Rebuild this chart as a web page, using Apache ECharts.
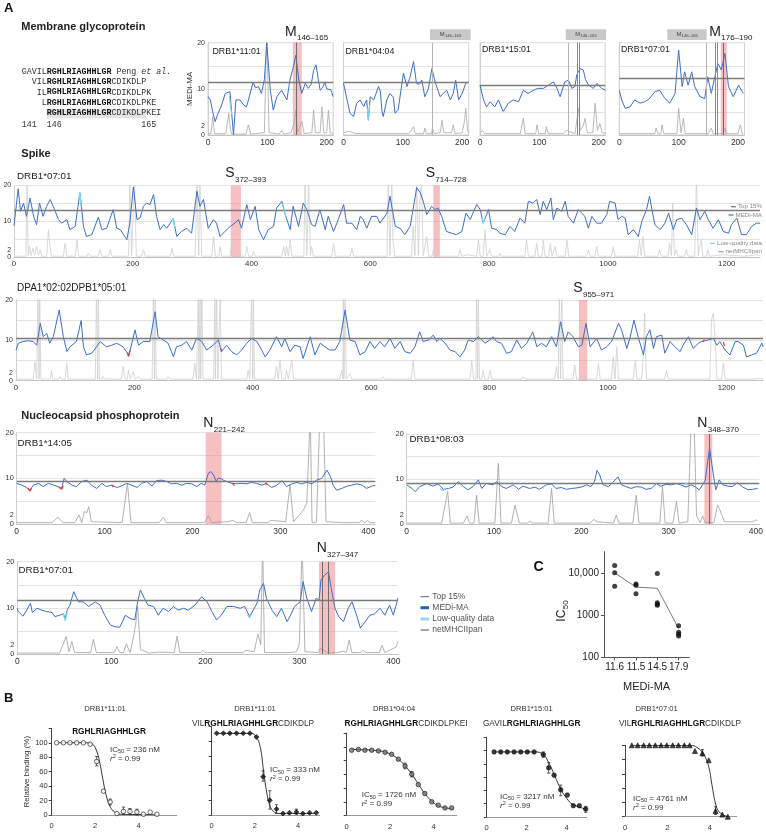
<!DOCTYPE html>
<html><head><meta charset="utf-8">
<script src="https://cdn.jsdelivr.net/npm/echarts@6/dist/echarts.min.js"></script>
<style>html,body{margin:0;padding:0;background:#fff}#c{width:766px;height:832px}</style>
</head><body><div id="c"></div>
<script>
// ---------------- DATA ----------------
var m1Blue=[[0,8.3],[4,7.6],[8,5],[12,2.9],[17,4.7],[23,6.5],[29,9.0],[37,9.4],[40,4.5],[43,0],[45,0],[47,7.6],[54,7.6],[60,6.5],[65,6.1],[70,8.5],[76,11.5],[80,10.2],[85,10.5],[90,9.0],[95,12],[99,19.9],[102,15],[105,9.7],[110,5.4],[116,8.3],[124,9.7],[133,7.6],[138,11.9],[144,14.8],[148,17.3],[153,11.9],[158,9.0],[164,11.2],[169,10.1],[174,11.0],[178,14.0],[182,15.2],[186,12],[189,9.7],[193,10.2],[197,11.5],[200,10.0],[203,9.7],[207,9.8],[211,8.3]];
var m1Grey=[[0,0.3],[5,0.3],[8,4],[11,0.3],[30,0.3],[35,4.7],[38,1],[40,0.2],[64,0.2],[68,2.2],[72,0.2],[95,0.5],[99,22],[103,0.5],[120,0.2],[124,1],[128,0.2],[140,0.5],[145,2.5],[148,5.4],[151,0.5],[158,3],[162,0.3],[175,0.5],[178,5.4],[181,0.5],[189,0.5],[192,6.1],[195,0.5],[200,0.5],[203,5.4],[206,0.5],[211,0.3]];
var m1Cyan=[[36,8.5],[38,6],[40,4.5]];
var m2Blue=[[0,11.2],[6,7.6],[11,4.7],[17,4.0],[22,6.8],[28,7.6],[34,6.2],[39,7.6],[42,3.2],[45,8.3],[51,7.6],[59,10.5],[62,9.5],[65,5],[67,4],[73,7.6],[78,9],[84,8.2],[87,4.7],[92,5.4],[101,13.4],[107,10.5],[112,12.5],[118,15.9],[123,11.2],[128,11],[132,11.9],[137,8.3],[143,10],[149,14.4],[155,11.2],[163,8.3],[168,9],[174,9.7],[180,7.6],[185,9],[189,11.9],[194,7.6],[200,9],[206,11.2],[211,11.5]];
var m2Grey=[[0,0.5],[10,0.8],[20,0.3],[110,0.3],[115,1.2],[118,1.8],[121,0.3],[135,0.3],[137,1.5],[140,0.3],[148,0.3],[150,1.5],[153,0.3],[163,0.5],[166,3.2],[169,0.5],[182,0.5],[185,2.2],[188,0.3],[200,0.5],[204,3],[206,5.8],[209,1],[211,0.5]];
var m2Cyan=[[40,6],[42,3.2],[44,6.5]];
var m3Blue=[[0,10.8],[6,7.6],[11,6.1],[17,7.2],[25,6.1],[31,7.6],[39,5.1],[48,6.9],[56,7.6],[65,7.2],[73,9.7],[81,9.0],[90,9.7],[98,10.1],[107,10.1],[115,10.8],[124,11.5],[130,10],[135,8.3],[143,11.5],[149,11.9],[155,10.1],[160,10.5],[163,13],[169,14.4],[174,14.1],[178,12],[183,10.8],[191,10.1],[197,11.2],[205,10.1],[212,9.7]];
var m3Grey=[[0,0.3],[4,1],[8,0.3],[68,0.3],[73,3.6],[76,0.3],[94,0.3],[96,2.2],[99,0.3],[110,0.3],[112,1.8],[115,0.3],[140,0.3],[146,1],[160,0.3],[166,5.8],[169,1],[174,2],[177,3.6],[181,0.5],[190,0.5],[194,6.9],[198,1],[202,2.5],[206,0.5],[212,0.3]];
var m4Blue=[[0,9.7],[4,7.6],[10,5.8],[18,6.1],[26,7.6],[35,6.9],[43,7.2],[51,7.9],[60,9.4],[68,9.7],[77,7.9],[85,6.9],[94,9.0],[100,18.4],[106,10.5],[110,13.7],[116,10.8],[122,13.7],[127,10.5],[136,8.3],[144,7.9],[149,12.6],[155,9.0],[161,12.6],[166,15.5],[172,14.1],[178,17.7],[184,10.5],[192,8.3],[201,10.8],[209,9.0]];
var m4Grey=[[0,0.3],[60,0.3],[62,1.5],[65,0.3],[70,0.3],[72,2.2],[75,0.3],[97,0.3],[100,5.8],[104,0.5],[108,3.6],[111,0.3],[150,0.3],[155,1.5],[158,0.3],[175,0.3],[178,1.5],[181,0.3],[200,0.3],[204,2.2],[207,0.3],[209,0.3]];
var s1Blue=[[0,8.8],[7,19.1],[11,12.8],[16,15.1],[21,11.4],[27,16.5],[33,11.4],[38,9.1],[43,15.1],[49,11.4],[55,14.2],[61,16.1],[66,14.2],[75,10.5],[80,9.5],[89,10.5],[94,7.7],[103,8.6],[111,18.0],[117,8.6],[122,5.8],[131,6.3],[142,11.2],[148,7.7],[156,8.1],[167,13.3],[173,8.1],[179,7.7],[190,4.9],[195,9.5],[201,19.6],[207,10.5],[212,10.9],[218,14.2],[223,15.1],[229,14.7],[235,17.5],[240,11.4],[246,7.7],[252,9.1],[257,8.1],[263,9.5],[268,10.9],[274,5.8],[282,7.2],[291,8.1],[299,6.7],[308,18.4],[313,14.2],[319,16.1],[327,8.1],[336,10.5],[341,9.5],[347,5.8],[355,7.2],[364,8.6],[372,9.5],[378,10.5],[383,8.1],[392,14.7],[398,10.5],[406,14.2],[412,7.7],[420,4.9],[428,7.7],[437,8.6],[442,13.7],[451,15.6],[456,12.3],[465,7.7],[470,14.2],[479,8.6],[487,15.1],[493,13.3],[501,9.1],[507,8.6],[515,13.3],[524,7.7],[529,11.4],[538,7.2],[546,10.5],[555,14.7],[560,9.5],[569,9.5],[577,7.7],[583,11.4],[588,10.5],[594,8.1],[602,11.4],[611,11.4],[616,9.5],[628,12.3],[633,17.0],[642,8.6],[650,8.1],[658,6.3],[667,8.6],[678,19.4],[684,18.0],[689,15.6],[695,11.9],[703,14.2],[709,13.3],[714,13.7],[720,11.4],[728,7.2],[737,6.7],[745,6.3],[754,7.2],[761,12.3],[768,10.5],[779,14.7],[785,13.3],[790,9.5],[799,13.3],[804,8.1],[813,7.7],[818,6.7],[827,6.3],[835,8.6],[843,7.2],[852,10.9],[860,9.5],[866,15.6],[874,15.1],[880,16.1],[886,11.9],[891,15.6],[897,13.3],[904,16.5],[908,10.5],[914,13.7],[922,12.8],[928,15.6],[933,11.4],[942,9.5],[950,13.3],[956,12.3],[961,11.4],[967,8.1],[973,11.4],[981,9.5],[989,9.5],[998,11.9],[1003,15.6],[1012,15.1],[1017,10.5],[1023,11.4],[1029,10.9],[1034,6.3],[1043,7.7],[1051,5.8],[1057,10.0],[1065,13.3],[1070,17.0],[1074,13.3],[1079,9.1],[1088,7.7],[1096,9.5],[1102,12.3],[1110,7.7],[1116,10.5],[1124,10.9],[1132,9.1],[1141,6.3],[1149,13.7],[1155,10.5],[1163,12.8],[1169,10.5],[1177,8.1],[1186,10.5],[1194,7.2],[1203,6.7],[1208,9.1],[1217,10.9],[1225,6.3],[1233,6.3],[1242,8.6],[1250,9.5],[1256,9.5]];
var s1Grey=[[0,0.3],[20,0.3],[22,22],[24,0.5],[26,3.0],[29,0.5],[32,2.5],[35,0.5],[38,3.0],[41,0.5],[44,2.1],[47,0.3],[55,0.3],[58,7.7],[60,3.9],[63,0.3],[83,0.3],[86,3.9],[89,0.3],[103,0.3],[106,4.9],[109,0.3],[123,0.3],[125,1.1],[128,0.3],[142,0.3],[145,2.1],[148,0.3],[159,0.3],[162,2.1],[165,0.3],[193,0.3],[195,22],[198,0.5],[203,22],[206,0.3],[215,0.3],[218,2.1],[221,0.3],[263,0.3],[266,2.5],[269,0.3],[305,0.3],[308,22],[311,0.5],[313,22],[316,0.3],[333,0.3],[336,5.8],[339,0.3],[345,0.3],[347,3.0],[350,0.3],[364,0.3],[367,4.9],[370,0.3],[389,0.3],[392,3.0],[395,0.3],[401,0.3],[403,1.6],[406,0.3],[451,0.3],[454,3.0],[457,0.3],[459,3.0],[462,0.3],[465,4.9],[468,0.3],[488,0.3],[490,22],[493,0.5],[496,22],[499,0.5],[501,3.0],[504,0.3],[535,0.3],[538,3.9],[541,0.3],[566,0.3],[569,2.5],[572,0.3],[628,0.3],[630,22],[633,0.5],[636,22],[638,4.9],[641,0.3],[669,0.3],[672,8.6],[675,0.5],[678,22],[681,0.5],[683,14.2],[686,22],[689,0.5],[695,5.8],[698,0.3],[704,0.3],[706,2.1],[709,0.3],[748,0.3],[751,2.1],[754,0.3],[762,0.7],[779,0.3],[782,4.9],[785,0.3],[790,0.3],[793,7.7],[796,0.3],[799,0.3],[801,2.1],[804,0.3],[816,0.3],[818,1.1],[821,0.3],[860,0.3],[863,4.9],[866,0.3],[877,0.3],[880,3.9],[883,0.3],[889,0.3],[891,4.9],[894,0.3],[900,0.3],[903,3.9],[906,0.3],[909,0.3],[911,3.0],[914,0.3],[928,0.3],[931,4.9],[934,0.3],[964,0.3],[967,2.1],[970,0.3],[978,0.3],[981,3.0],[984,0.3],[1006,0.3],[1009,3.0],[1012,0.3],[1050,0.3],[1053,4.9],[1056,0.5],[1059,5.8],[1062,0.3],[1084,0.3],[1087,2.1],[1090,0.3],[1101,0.3],[1104,3.9],[1107,0.5],[1109,15.1],[1112,0.5],[1115,2.1],[1118,0.3],[1129,0.3],[1132,2.1],[1135,0.3],[1146,0.3],[1149,22],[1152,0.5],[1157,4.9],[1160,0.3],[1166,0.3],[1168,2.1],[1171,0.3],[1193,0.7],[1230,0.3],[1252,0.7],[1256,0.3]];
var s1CyanA=[[109,16],[111,18.0],[113,14]];
var s1CyanB=[[266,10],[268,10.9],[271,8]];
var s1CyanC=[[452,14.8],[455,13],[458,11]];
var s1CyanD=[[788,11],[790,9.5],[793,11]];
var s2Blue=[[0,7.6],[4,9.3],[12,9.7],[21,9.9],[29,9.7],[35,8.8],[41,14.2],[46,10.9],[52,11.7],[57,9.3],[63,10.9],[73,17.5],[80,10.9],[86,7.2],[91,8.4],[102,9.7],[110,14.9],[114,8.4],[119,6.4],[128,6.8],[136,8.4],[142,9.7],[153,8.4],[162,8.8],[170,9.3],[181,8.4],[190,6.4],[193,7.6],[201,12.6],[207,8.8],[215,9.7],[226,9.7],[235,17.1],[240,10.9],[249,10.1],[257,9.3],[266,5.9],[271,8.4],[280,8.8],[288,9.7],[297,7.6],[305,10.5],[314,9.7],[322,7.6],[333,8.8],[342,10.1],[347,7.2],[356,8.8],[364,7.2],[373,6.4],[381,7.6],[390,9.3],[398,10.5],[407,9.7],[415,7.6],[421,5.9],[429,7.6],[440,10.9],[449,8.4],[454,10.5],[463,7.2],[471,8.8],[480,8.4],[485,5.5],[497,10.9],[505,6.4],[514,9.3],[522,8.4],[530,7.6],[539,7.6],[547,9.7],[556,17.5],[564,10.1],[573,9.7],[581,6.4],[590,7.2],[598,9.7],[606,8.0],[615,9.7],[623,8.4],[632,10.5],[640,8.0],[649,9.7],[657,7.2],[666,6.8],[674,8.4],[682,12.1],[688,9.7],[697,10.1],[705,11.3],[711,9.7],[716,10.5],[725,9.3],[733,7.6],[742,7.2],[750,5.9],[758,7.6],[764,10.1],[773,9.7],[781,10.9],[787,10.1],[792,9.3],[801,10.1],[806,10.9],[812,9.7],[820,9.3],[829,6.8],[837,7.2],[846,10.1],[854,8.0],[863,9.3],[873,12.1],[880,8.4],[888,9.3],[896,8.4],[905,10.9],[913,8.4],[920,14.6],[927,9.7],[933,12.1],[941,10.9],[950,8.4],[956,8.8],[963,14.2],[970,8.4],[981,10.5],[989,7.6],[998,8.4],[1006,9.7],[1018,14.2],[1023,12.6],[1032,8.0],[1037,10.5],[1044,15.0],[1051,10.9],[1060,6.4],[1065,10.9],[1071,12.6],[1077,8.0],[1082,10.9],[1091,11.3],[1096,6.8],[1105,9.7],[1113,8.4],[1122,7.2],[1127,8.8],[1136,10.9],[1144,8.0],[1153,9.3],[1158,9.7],[1170,10.1],[1178,10.5],[1184,8.8],[1189,9.7],[1198,7.6],[1206,6.4],[1215,9.7],[1220,9.7],[1229,8.8],[1234,5.9],[1243,6.4],[1251,6.8],[1260,9.3],[1262,8.4]];
var s2Grey=[[0,0.4],[29,0.4],[32,4.7],[35,0.4],[37,22],[39,0.4],[40,22],[42,0.4],[58,0.4],[60,2.6],[62,0.4],[72,0.4],[74,1.0],[76,0.4],[83,0.4],[86,4.3],[88,0.4],[134,0.4],[136,22],[138,0.4],[139,22],[141,0.4],[145,0.4],[147,1.0],[150,0.4],[178,0.4],[181,3.5],[184,0.4],[188,0.4],[190,2.6],[193,0.4],[196,0.4],[198,2.2],[201,0.4],[204,0.4],[207,1.0],[210,0.4],[230,0.4],[232,22],[234,0.4],[235,22],[237,0.4],[255,0.4],[257,1.0],[260,0.4],[299,0.4],[302,4.3],[305,0.4],[308,22],[309,0.4],[311,22],[312,0.4],[314,22],[316,0.4],[334,0.4],[336,22],[337,0.4],[339,22],[341,0.4],[343,0.4],[345,22],[347,0.4],[390,0.4],[392,2.6],[395,0.4],[397,0.4],[398,22],[400,0.4],[401,22],[403,0.4],[437,0.4],[440,3.5],[443,0.4],[446,5.1],[449,0.4],[455,0.4],[457,2.6],[460,0.4],[463,0.4],[466,5.1],[469,0.4],[547,0.4],[550,2.6],[552,0.4],[553,22],[554,0.4],[556,22],[558,0.4],[564,1.8],[567,0.4],[618,0.4],[620,1.0],[623,0.4],[668,0.4],[671,5.1],[674,0.4],[767,0.4],[770,5.1],[773,0.4],[777,0.4],[778,22],[780,0.4],[781,22],[783,0.4],[787,0.4],[789,2.6],[792,0.4],[798,0.4],[801,2.6],[804,0.4],[854,0.4],[857,1.0],[860,0.4],[910,0.4],[913,3.5],[916,0.4],[918,22],[920,0.4],[922,22],[924,0.4],[941,0.4],[944,3.9],[947,0.4],[981,0.4],[984,4.3],[987,0.4],[1006,0.4],[1009,5.9],[1012,0.4],[1015,8.4],[1018,0.4],[1043,0.4],[1046,5.1],[1049,0.4],[1057,0.4],[1060,6.8],[1062,16.7],[1065,0.4],[1096,0.4],[1099,2.6],[1102,0.4],[1172,0.4],[1175,15],[1178,16.7],[1181,10.9],[1184,0.4],[1192,0.4],[1195,4.3],[1198,0.4],[1250,0.4],[1254,0.6],[1262,0.4]];
var s2Red=[[188,7.0],[190,6.0],[193,7.5],null,[346,8.0],[348,7.2],null,[1161,9.6],[1163,10.2],null,[1195,9.6],[1197,8.6]];
var n1Blue=[[0,8.9],[6,8.5],[11,8.0],[15,7.4],[19,8.5],[25,8.9],[30,8.2],[36,8.9],[42,8.5],[47,8.2],[51,7.8],[54,10.0],[57,9.3],[63,8.5],[68,8.2],[74,9.3],[80,9.6],[85,8.5],[91,7.8],[97,8.9],[102,8.2],[108,8.5],[114,8.0],[119,8.3],[125,8.9],[131,8.5],[137,8.0],[142,8.9],[148,9.3],[154,8.3],[159,9.5],[165,9.6],[171,9.3],[176,8.8],[182,8.9],[188,8.5],[193,8.9],[199,8.8],[205,8.2],[210,8.9],[214,8.5],[218,11.1],[221,11.5],[224,10.7],[227,9.3],[229,10.0],[232,10.0],[235,9.6],[239,9.3],[245,8.9],[250,8.8],[256,8.9],[262,8.8],[267,9.1],[273,8.9],[279,8.5],[284,8.9],[290,8.0],[296,8.5],[302,9.5],[307,8.2],[313,8.8],[319,9.1],[324,8.8],[330,9.1],[336,8.8],[341,9.6],[347,10.0],[353,11.8],[357,10.4],[360,8.5],[364,7.4],[370,7.8],[376,8.3],[381,8.5],[387,8.8],[393,8.5],[398,7.8],[404,8.3],[408,8.5]];
var n1Grey=[[0,0.3],[40,0.3],[47,1.5],[50,0.8],[53,0.3],[66,0.3],[71,2.0],[74,0.3],[77,2.7],[80,2.5],[82,3.8],[85,0.5],[120,0.3],[126,8.9],[130,0.3],[162,0.3],[167,1.5],[170,0.3],[214,0.3],[218,1.8],[222,0.3],[240,0.5],[246,0.8],[250,0.3],[261,0.3],[265,2.5],[268,0.3],[286,0.3],[289,0.8],[306,0.5],[311,8.5],[315,0.5],[326,3],[330,4.5],[334,24],[336,0.3],[341,0.3],[345,24],[349,24],[352,0.5],[370,0.3],[390,0.3],[392,0.8],[396,0.3],[399,0.8],[402,0.3],[408,0.3]];
var n1Red=[[13,7.9],[15,7.2],[17,7.8],null,[48,8.1],[51,7.6],[53,8.4],null,[108,8.6],[110,8.1],null,[245,8.9],[248,8.4],null,[283,9.1],[285,8.5]];
var n2Blue=[[0,8.7],[6,7.9],[10,7.2],[15,8.3],[23,9.0],[30,8.4],[36,8.9],[42,7.7],[48,7.9],[53,8.2],[59,9.4],[65,8.3],[70,7.6],[76,8.3],[82,9.8],[86,7.9],[91,9.0],[99,8.7],[103,9.4],[109,8.3],[114,7.9],[122,8.7],[128,7.7],[133,8.4],[141,7.9],[147,8.2],[152,7.7],[160,8.7],[166,8.9],[171,7.9],[177,8.1],[183,7.7],[189,7.9],[194,8.0],[200,8.2],[206,8.7],[211,8.3],[215,9.4],[218,11.9],[221,10.9],[225,8.7],[231,8.3],[236,9.2],[242,10.5],[246,8.7],[251,8.3],[257,7.9],[263,8.3],[269,8.2],[274,7.7],[280,7.9],[286,9.0],[291,8.4],[297,8.8],[303,8.7],[309,9.0],[314,8.7],[320,8.2],[326,8.7],[331,8.2],[335,7.6],[339,8.7],[342,9.8],[345,14.2],[347,16.8],[351,11.3],[354,7.6],[358,9.8],[362,8.7],[368,8.4],[373,8.3],[379,9.2],[385,8.2],[391,7.6],[396,7.7],[402,7.9]];
var n2Grey=[[0,0.2],[40,0.2],[47,7.2],[50,0.2],[65,0.2],[69,1.8],[72,0.2],[77,0.2],[80,6.4],[83,0.2],[101,0.2],[105,13.5],[108,0.2],[120,0.2],[124,4.2],[126,3.8],[129,0.2],[138,0.2],[141,0.6],[144,0.2],[162,0.2],[166,7.9],[169,0.2],[210,0.2],[214,1.0],[218,0.5],[237,0.2],[240,2.0],[243,0.2],[259,0.2],[263,6.4],[266,0.2],[290,0.2],[293,8.3],[296,0.2],[305,0.2],[309,5.0],[312,0.2],[322,0.5],[326,24],[329,24],[332,1.8],[336,0.3],[339,1.8],[342,0.3],[352,0.3],[356,4.2],[358,3.5],[360,3.9],[364,0.5],[375,0.5],[390,0.5],[392,0.9],[396,0.5],[400,0.9],[402,0.8]];
var n2Cyan=[[38,7.9],[42,7.4],[45,8.0],null,[318,8.7],[320,9.2],[322,8.7]];
var n3Blue=[[0,9.9],[1,9.2],[6,8.2],[10,9.5],[14,11.0],[16,9.0],[21,9.9],[26,9.5],[31,9.2],[37,9.0],[40,8.1],[45,8.4],[49,8.7],[51,7.7],[53,9.5],[56,10.6],[60,13.5],[65,11.3],[70,11.3],[76,10.3],[83,11.3],[88,10.6],[93,8.4],[99,6.3],[104,5.9],[109,5.8],[115,8.4],[120,7.7],[125,7.4],[128,11.3],[131,13.9],[135,12.1],[139,10.6],[145,10.3],[150,8.4],[155,9.9],[161,9.2],[166,10.3],[171,9.5],[177,9.9],[182,9.5],[189,10.6],[196,12.4],[202,11.3],[207,9.2],[212,7.4],[217,8.4],[223,10.3],[230,10.3],[237,9.9],[242,10.3],[247,8.1],[251,9.5],[255,11.0],[258,13.9],[262,15.3],[265,12.1],[271,9.5],[276,8.1],[281,9.9],[287,7.0],[290,8.1],[295,10.3],[301,11.3],[304,15.7],[308,12.1],[313,9.2],[318,12.1],[321,11.7],[323,16.0],[327,17.1],[331,17.8],[334,14.2],[338,9.9],[342,8.1],[347,7.0],[352,9.9],[356,11.3],[361,8.4],[365,5.6],[370,7.0],[375,8.4],[380,8.7],[386,9.9],[391,8.4],[396,10.6],[400,8.4],[405,12.1]];
var n3Grey=[[0,0.2],[45,0.2],[52,3.8],[55,0.5],[58,2.7],[61,0.3],[78,0.3],[81,3.2],[84,0.3],[103,0.3],[106,1.6],[109,0.3],[113,0.3],[116,2.2],[120,0.3],[124,4],[126,6.6],[128,10.3],[131,1],[140,0.2],[150,0.4],[167,0.3],[170,3.9],[173,0.3],[195,0.3],[197,0.8],[200,0.3],[240,0.3],[243,0.8],[252,0.5],[256,4.3],[259,2],[261,24],[263,0.3],[290,0.3],[297,0.5],[300,2.2],[303,24],[306,0.5],[320,0.3],[322,1.2],[330,0.3],[340,0.3],[347,0.6],[350,0.3],[353,3.0],[356,0.3],[365,0.3],[368,0.8],[371,0.3],[385,0.3],[388,1.9],[391,0.3],[403,1.5],[405,2.7]];
var n3Cyan=[[49,8.7],[51,7.2],[53,9.0],null,[245,8.5],[247,7.8],[249,8.5]];
var cCategories=['11.6','11.5','14.5','17.9'];
var cIC50=[[0,15000],[0,10000],[0,4800],[1,5400],[1,5100],[1,3200],[2,9600],[2,1950],[2,1800],[2,1700],[3,560],[3,390],[3,350],[3,320]];
var cTrend=[10000,4600,4300,480];
// Panel B: x = log10 concentration (nM), y = relative binding (%)
var b1Points=[[0.23,100],[0.54,100],[0.84,100],[1.15,100],[1.46,100],[1.77,98],[2.07,74],[2.38,33],[2.69,18],[3.0,2],[3.3,5],[3.6,5],[3.92,4],[4.22,1],[4.53,4],[4.84,1]];
var b1Curve=[[0.23,100],[1.5,100],[1.85,98.5],[2.05,90],[2.2,74],[2.35,50],[2.5,28],[2.7,11],[2.9,4],[3.2,1],[4.84,0.5]];
var b1Err=[[2.07,68,81],[2.69,14,22],[3.3,1,11],[3.6,1,9],[3.92,0,8]];
var b2Points=[[0.23,111],[0.54,111],[0.84,111],[1.15,111],[1.46,111],[1.77,111],[2.07,106],[2.38,52],[2.69,20],[3.0,8],[3.3,2],[3.6,3],[3.92,4],[4.22,2],[4.53,3],[4.84,3]];
var b2Curve=[[0.23,111],[1.8,111],[2.05,107],[2.25,92],[2.4,60],[2.55,30],[2.7,12],[2.9,4],[3.2,2],[4.84,2]];
var b2Err=[[2.38,46,60],[2.69,8,33],[3.0,2,14],[3.92,1,8]];
var b3Points=[[0.23,95],[0.54,96],[0.84,95],[1.15,95],[1.46,94],[1.77,92],[2.07,89],[2.38,82],[2.69,72],[3.0,60],[3.3,45],[3.6,32],[3.92,20],[4.22,15],[4.53,11],[4.84,11]];
var b3Curve=[[0.23,96],[1.2,95],[1.8,92],[2.3,84],[2.7,72],[3.0,60],[3.3,46],[3.6,32],[3.95,20],[4.3,13],[4.84,10]];
var b3Err=[[2.69,68,76],[3.0,56,64]];
var b4Points=[[0.37,98],[0.7,98],[1.03,98],[1.37,98],[1.7,98],[2.03,98],[2.37,98],[2.83,94],[3.1,74],[3.37,63],[3.7,41],[4.03,33],[4.33,17],[4.63,17],[4.95,12]];
var b4Curve=[[0.37,98],[2.4,98],[2.8,95],[3.1,82],[3.4,62],[3.7,42],[4.0,28],[4.3,19],[4.95,12]];
var b4Err=[[2.83,90,98],[3.1,66,82],[3.7,32,48],[4.95,7,16]];
var b5Points=[[0.32,100],[0.6,100],[0.88,100],[1.15,100],[1.43,100],[1.7,100],[1.97,100],[2.25,100],[2.52,100],[2.8,100],[3.05,100],[3.3,92],[3.65,89],[3.95,79],[4.27,8],[4.59,3],[4.85,0]];
var b5Curve=[[0.32,100],[3.1,100],[3.4,97],[3.7,88],[3.95,70],[4.1,45],[4.3,15],[4.5,5],[4.85,0]];
var b5Err=[[3.65,85,94],[4.27,3,14]];
</script>
<script>
var FONT='"Liberation Sans", Arial, sans-serif';
var MONO='"Liberation Mono", "Courier New", monospace';
var BLUE='#3d6ec9', CYAN='#7fd3ea', RED='#e8363a';
var grids=[], xAxes=[], yAxes=[], series=[], graphics=[];
var cv=document.createElement('canvas').getContext('2d');
function tw(s,size,weight,fam){cv.font=(weight||'normal')+' '+size+'px '+(fam||FONT);return cv.measureText(s).width;}
function txt(x,y,text,o){
  o=o||{};
  var st={text:text,fill:o.color||'#222',fontSize:o.size||9,fontFamily:o.family||FONT,fontWeight:o.weight||'normal',fontStyle:o.fstyle||'normal',
    textAlign:o.align||'left',textVerticalAlign:o.valign||'middle',align:o.align||'left',verticalAlign:o.valign||'middle'};
  if(o.rich) st.rich=o.rich;
  graphics.push({type:'text',x:x,y:y,rotation:o.rot||0,silent:true,z:100,style:st});
}
function subLabel(x,yc,main,sub,ms,ss,dy,color){txt(x,yc,main,{size:ms,color:color});txt(x+tw(main,ms)+0.3,yc+dy,sub,{size:ss,color:color});}
function hline(x1,x2,y,color,w){graphics.push({type:'line',silent:true,z:100,shape:{x1:x1,y1:y,x2:x2,y2:y},style:{stroke:color,lineWidth:w}});}
function rect(x,y,w,h,color){graphics.push({type:'rect',silent:true,z:90,shape:{x:x,y:y,width:w,height:h},style:{fill:color}});}
function plainNum(v){return String(v);}
function profile(p){
  var i=grids.length;
  grids.push({left:p.left,top:p.top,width:p.width,height:p.height,show:!!p.box,borderColor:'#d3d3d3',borderWidth:1,backgroundColor:'transparent'});
  xAxes.push({type:'value',gridIndex:i,min:0,max:p.xmax,axisLine:{show:true,lineStyle:{color:'#c4c4c4',width:1}},axisTick:{show:false},splitLine:{show:false},
    axisLabel:{customValues:p.xlabels,formatter:plainNum,fontSize:p.xfs,color:'#333',margin:3,fontFamily:FONT}});
  yAxes.push({type:'value',gridIndex:i,min:0,max:20,interval:5,axisLine:{show:true,lineStyle:{color:'#d0d0d0'}},axisTick:{show:false},
    splitLine:{show:true,lineStyle:{color:'#e3e3e3',width:1}},
    axisLabel:{show:p.ylab!==false,customValues:[0,2,10,20],formatter:plainNum,fontSize:p.yfs,color:'#333',margin:3,fontFamily:FONT},
    name:p.yname||'',nameLocation:'middle',nameGap:p.nameGap||14,nameRotate:90,nameTextStyle:{fontSize:8,color:'#333',fontFamily:FONT}});
  var ml=[{yAxis:p.top15,lineStyle:{color:'#7b7b7b',width:1.3,type:'solid'}}];
  (p.vlines||[]).forEach(function(v){ml.push({xAxis:v[0],lineStyle:{color:v[1],width:1,type:'solid'}});});
  var areas=(p.bands||[]).map(function(b){return [{xAxis:b[0]},{xAxis:b[1]}];});
  series.push({type:'line',xAxisIndex:i,yAxisIndex:i,data:p.grey,symbol:'none',lineStyle:{color:p.greyColor||'#bdbdbd',width:0.8},z:2,silent:true,
    markArea:{silent:true,itemStyle:{color:'rgba(238,128,134,0.5)'},data:areas}});
  series.push({type:'line',xAxisIndex:i,yAxisIndex:i,data:p.blue,symbol:'none',lineStyle:{color:BLUE,width:1},z:4,silent:true,
    markLine:{silent:true,symbol:'none',label:{show:false},data:ml}});
  (p.cyan||[]).forEach(function(c){series.push({type:'line',xAxisIndex:i,yAxisIndex:i,data:c,symbol:'none',connectNulls:false,lineStyle:{color:CYAN,width:1.2},z:5,silent:true});});
  if(p.red){series.push({type:'line',xAxisIndex:i,yAxisIndex:i,data:p.red,symbol:'none',connectNulls:false,lineStyle:{color:RED,width:1.2},z:5,silent:true});}
  if(p.title){txt(p.title[0],p.title[1],p.title[2],{size:p.tfs||9.8});}
}
function mp(extra){var base={top:42.7,height:92.3,width:125.2,xmax:211,xlabels:[0,100,200],xfs:8.5,yfs:7,box:true,greyColor:'#a8a8a8',tfs:8.8};for(var k in extra){base[k]=extra[k];}return base;}
profile(mp({left:208,blue:m1Blue,grey:m1Grey,cyan:[m1Cyan],top15:11.5,bands:[[143,158]],vlines:[[148,'#6d6d6d']],yname:'MEDi-MA',nameGap:13,title:[212.5,51.7,'DRB1*11:01']}));
profile(mp({left:343.5,blue:m2Blue,grey:m2Grey,cyan:[m2Cyan],top15:11.5,ylab:false,vlines:[[150,'#b4b4b4']],title:[345.5,51.7,'DRB1*04:04']}));
profile(mp({left:480,blue:m3Blue,grey:m3Grey,top15:10.8,ylab:false,vlines:[[148,'#b4b4b4'],[164,'#8a8a8a'],[168,'#8a8a8a']],title:[482,49.5,'DRB1*15:01']}));
profile(mp({left:619.3,blue:m4Blue,grey:m4Grey,top15:12.3,ylab:false,bands:[[171,181]],vlines:[[146,'#b4b4b4'],[161,'#8a8a8a'],[165,'#8a8a8a'],[175,'#6d6d6d']],title:[621,49.5,'DRB1*07:01']}));
profile({left:14,top:185.5,width:746,height:71.8,xmax:1256,xlabels:[0,200,400,600,800,1000,1200],xfs:7.8,yfs:6.8,blue:s1Blue,grey:s1Grey,greyColor:'#cfcfcf',cyan:[s1CyanA,s1CyanB,s1CyanC,s1CyanD],top15:13.2,bands:[[365,382],[706,717]],title:[17,176,'DRB1*07:01']});
profile({left:16,top:300,width:747,height:80.7,xmax:1262,xlabels:[0,200,400,600,800,1000,1200],xfs:7.8,yfs:7,blue:s2Blue,grey:s2Grey,greyColor:'#cfcfcf',red:s2Red,top15:10.5,bands:[[951,965]],title:[17,288.3,'DPA1*02:02DPB1*05:01'],tfs:10});
profile({left:16.7,top:432.7,width:358.6,height:91.3,xmax:408,xlabels:[0,100,200,300,400],xfs:8.5,yfs:7.3,blue:n1Blue,grey:n1Grey,greyColor:'#a0a0a0',red:n1Red,top15:9.27,bands:[[215,233]],title:[17.5,443.3,'DRB1*14:05']});
profile({left:406.7,top:434,width:353.5,height:90,xmax:404,xlabels:[0,100,200,300,400],xfs:8.5,yfs:7.3,blue:n2Blue,grey:n2Grey,greyColor:'#a0a0a0',cyan:[n2Cyan],top15:9.0,bands:[[341,350]],vlines:[[347,'#6d6d6d']],title:[409.5,439.3,'DRB1*08:03']});
profile({left:17.3,top:561.7,width:380.7,height:92.3,xmax:405,xlabels:[0,100,200,300,400],xfs:8.5,yfs:7.3,blue:n3Blue,grey:n3Grey,greyColor:'#a0a0a0',cyan:[n3Cyan],top15:11.55,bands:[[321,338]],vlines:[[324,'#6d6d6d'],[331,'#6d6d6d']],title:[18.5,570,'DRB1*07:01']});

// Panel C
var ci=grids.length;
grids.push({left:604,top:551.7,width:85.3,height:105.6});
xAxes.push({type:'category',gridIndex:ci,data:cCategories,boundaryGap:true,axisLine:{lineStyle:{color:'#555'}},axisTick:{show:true,alignWithLabel:true,length:3,lineStyle:{color:'#555'}},
  axisLabel:{interval:0,fontSize:10,color:'#222',margin:5,fontFamily:FONT},name:'MEDi-MA',nameLocation:'middle',nameGap:24,nameTextStyle:{fontSize:11,color:'#222',fontFamily:FONT}});
yAxes.push({type:'log',gridIndex:ci,logBase:10,min:100,max:31623,axisLine:{show:true,lineStyle:{color:'#555'}},axisTick:{show:true,length:3,lineStyle:{color:'#555'}},splitLine:{show:false},
  axisLabel:{fontSize:10,color:'#222',margin:5,fontFamily:FONT,showMaxLabel:false,formatter:function(v){var r=Math.round(v);if(r===100){return '100';}if(r===1000){return '1000';}if(r===10000){return '10,000';}return '';}}});
series.push({type:'line',xAxisIndex:ci,yAxisIndex:ci,data:cTrend,symbol:'none',lineStyle:{color:'#7a7a7a',width:1},z:3,silent:true});
series.push({type:'scatter',xAxisIndex:ci,yAxisIndex:ci,data:cIC50,symbolSize:5,itemStyle:{color:'#111'},z:4,silent:true});

// Panel B
function errRender(params,api){
  var x=api.value(0),lo=api.value(1),hi=api.value(2);
  var a=api.coord([x,lo]),b=api.coord([x,hi]);var c=1.6;
  var st={stroke:'#333',lineWidth:0.8};
  return {type:'group',children:[
    {type:'line',shape:{x1:a[0],y1:a[1],x2:b[0],y2:b[1]},style:st},
    {type:'line',shape:{x1:a[0]-c,y1:a[1],x2:a[0]+c,y2:a[1]},style:st},
    {type:'line',shape:{x1:b[0]-c,y1:b[1],x2:b[0]+c,y2:b[1]},style:st}]};
}
function bPanel(p){
  var i=grids.length;
  grids.push({left:p.left,top:p.top,width:p.width,height:p.height});
  xAxes.push({type:'value',gridIndex:i,min:0,max:p.xmax,interval:1,axisLine:{show:true,lineStyle:{color:'#9a9a9a'}},axisTick:{show:false},splitLine:{show:false},
    axisLabel:{customValues:[0,2,4],fontSize:7.5,color:'#333',margin:7,fontFamily:FONT}});
  yAxes.push({type:'value',gridIndex:i,min:0,max:p.ymax,interval:20,axisLine:{show:true,lineStyle:{color:'#444'}},axisTick:{show:true,length:3,lineStyle:{color:'#444'}},splitLine:{show:false},
    axisLabel:{show:!!p.ylab,customValues:[0,20,40,60,80,100],fontSize:7.5,color:'#333',margin:4,fontFamily:FONT},
    name:p.yname||'',nameLocation:'middle',nameGap:17,nameRotate:90,nameTextStyle:{fontSize:8,color:'#333',fontFamily:FONT}});
  series.push({type:'line',xAxisIndex:i,yAxisIndex:i,data:p.curve,smooth:0.4,symbol:'none',lineStyle:{color:'#222',width:0.9},z:3,silent:true});
  series.push({type:'custom',xAxisIndex:i,yAxisIndex:i,data:p.err,renderItem:errRender,z:3,silent:true});
  series.push({type:'scatter',xAxisIndex:i,yAxisIndex:i,data:p.points,symbol:p.symbol,symbolSize:p.size||4.5,itemStyle:{color:p.fill,borderColor:'#111',borderWidth:0.8},z:4,silent:true});
}
bPanel({left:51.7,top:728.3,width:125,height:86.7,xmax:5.75,ymax:120,ylab:true,yname:'Relative binding (%)',points:b1Points,curve:b1Curve,err:b1Err,symbol:'circle',fill:'#fff'});
bPanel({left:211.7,top:726.7,width:108,height:88.3,xmax:5,ymax:120,points:b2Points,curve:b2Curve,err:b2Err,symbol:'diamond',fill:'#111',size:5});
bPanel({left:346.7,top:733,width:110,height:82.5,xmax:5.07,ymax:120,points:b3Points,curve:b3Curve,err:b3Err,symbol:'circle',fill:'#777'});
bPanel({left:486.7,top:737.3,width:100,height:80,xmax:5,ymax:120,points:b4Points,curve:b4Curve,err:b4Err,symbol:'circle',fill:'#111'});
bPanel({left:625,top:745.3,width:111.7,height:71.4,xmax:5.27,ymax:100,points:b5Points,curve:b5Curve,err:b5Err,symbol:'triangle',fill:'#111',size:5});
</script>
<script>
// text / annotations
txt(4,8,'A',{size:13,weight:'bold',color:'#111'});
txt(21.3,27,'Membrane glycoprotein',{size:11,weight:'bold',color:'#222'});
txt(21.3,154,'Spike',{size:11,weight:'bold',color:'#222'});
txt(21.3,416,'Nucleocapsid phosphoprotein',{size:11,weight:'bold',color:'#222'});
var seqRich={n:{fontFamily:MONO,fontSize:8.3,fill:'#333',color:'#333'},b:{fontFamily:MONO,fontSize:8.3,fontWeight:'bold',fill:'#111',color:'#111'},i:{fontFamily:MONO,fontSize:8.3,fontStyle:'italic',fill:'#333',color:'#333'}};
var seqLines=[['GAVIL','RGHLRIAGHHLGR',' Peng ','et al.'],['VIL','RGHLRIAGHHLGR','CDIKDLP',''],['IL','RGHLRIAGHHLGR','CDIKDLPK',''],['L','RGHLRIAGHHLGR','CDIKDLPKE',''],['','RGHLRIAGHHLGR','CDIKDLPKEI','']];
var cw=tw('M',8.3,'normal',MONO);
var boldStart=46.7;
rect(boldStart,108.7,cw*20,9.6,'#e4e4e4');
seqLines.forEach(function(l,k){
  var x=boldStart-cw*l[0].length;
  var s=(l[0]?'{n|'+l[0]+'}':'')+'{b|'+l[1]+'}'+'{n|'+l[2]+'}'+(l[3]?'{i|'+l[3]+'}':'');
  txt(x,71.5+k*10.45,s,{rich:seqRich,family:MONO,size:8.3});
});
txt(21.7,124.5,'141',{family:MONO,size:8.3,color:'#333'});
txt(boldStart,124.5,'146',{family:MONO,size:8.3,color:'#333'});
txt(boldStart+cw*19,124.5,'165',{family:MONO,size:8.3,color:'#333'});
function tag(x1,x2){rect(x1,29.3,x2-x1,10.7,'#c8c8c8');var w=tw('M',5.8)+tw('146–165',4.2);var xs=(x1+x2)/2-w/2;subLabel(xs,34,'M','146–165',5.8,4.2,1.8,'#444');}
tag(430,470.7);tag(565.7,606);tag(667.3,706.7);
subLabel(285,31.7,'M','146–165',14,8,6.5,'#222');
subLabel(709.3,31.7,'M','176–190',14,8,6.5,'#222');
subLabel(225.3,173,'S','372–393',14,8,6.5,'#222');
subLabel(425.7,173,'S','714–728',14,8,6.5,'#222');
subLabel(573.3,288.3,'S','955–971',14,8,6.5,'#222');
subLabel(203.3,423.3,'N','221–242',14,8,6.5,'#222');
subLabel(697.3,423,'N','348–370',14,8,6.5,'#222');
subLabel(316.7,548.3,'N','327–347',14,8,6.5,'#222');
var legS=[[206.7,'#6f6f6f','Top 15%'],[215,BLUE,'MEDi-MA'],[243.3,CYAN,'Low-quality data'],[251.7,'#9a9a9a','netMHCIIpan']];
legS.forEach(function(r){var w=tw(r[2],6.2);var x0=762-w;hline(x0-7,x0-2,r[0],r[1],1.2);txt(762,r[0],r[2],{size:6.2,color:'#888',align:'right'});});
var legN=[[596.7,'#666',1,'Top 15%'],[607.7,'#2a5db5',3,'MEDi-MA'],[619,'#96d7ea',3,'Low-quality data'],[630,'#555',1,'netMHCIIpan']];
legN.forEach(function(r){hline(420.5,429,r[0],r[1],r[2]);txt(432.3,r[0],r[3],{size:8.5,color:'#555'});});
txt(533.5,566.7,'C',{size:14,weight:'bold',color:'#111'});
graphics.push({type:'group',x:562,y:611.7,rotation:Math.PI/2,silent:true,z:100,children:[
  {type:'text',x:-10,y:0,style:{text:'IC',fill:'#222',fontSize:12,fontFamily:FONT,textAlign:'left',textVerticalAlign:'middle',align:'left',verticalAlign:'middle'}},
  {type:'text',x:-10+tw('IC',12)+0.5,y:4,style:{text:'50',fill:'#222',fontSize:8,fontFamily:FONT,textAlign:'left',textVerticalAlign:'middle',align:'left',verticalAlign:'middle'}}]});
txt(4,698.3,'B',{size:13,weight:'bold',color:'#111'});
var pepRich={n:{fontFamily:FONT,fontSize:8.3,fill:'#333',color:'#333'},b:{fontFamily:FONT,fontSize:8.3,fontWeight:'bold',fill:'#111',color:'#111'}};
var icRich={a:{fontFamily:FONT,fontSize:8,fill:'#333',color:'#333',lineHeight:10},s:{fontFamily:FONT,fontSize:5.5,fill:'#333',color:'#333',lineHeight:5,verticalAlign:'bottom'},
  r:{fontFamily:FONT,fontSize:8,fontStyle:'italic',fill:'#333',color:'#333',lineHeight:10},p:{fontFamily:FONT,fontSize:5.5,fill:'#333',color:'#333',lineHeight:5,verticalAlign:'top'}};
var bTitles=[[105,'DRB1*11:01'],[255,'DRB1*11:01'],[394,'DRB1*04:04'],[531.7,'DRB1*15:01'],[656.7,'DRB1*07:01']];
bTitles.forEach(function(t){txt(t[0],709,t[1],{size:7.6,align:'center',color:'#333'});});
txt(109,731.7,'{b|RGHLRIAGHHLGR}',{rich:pepRich,align:'center'});
txt(253,723.5,'{n|VIL}{b|RGHLRIAGHHLGR}{n|CDIKDLP}',{rich:pepRich,align:'center'});
txt(406,723.5,'{b|RGHLRIAGHHLGR}{n|CDIKDLPKEI}',{rich:pepRich,align:'center'});
txt(531.7,723.5,'{n|GAVIL}{b|RGHLRIAGHHLGR}',{rich:pepRich,align:'center'});
txt(680,723.5,'{n|VIL}{b|RGHLRIAGHHLGR}{n|CDIKDLP}',{rich:pepRich,align:'center'});
var icTexts=[[110,749.3,'236'],[270,770,'333'],[361.7,795,'1726'],[500,796.7,'3217'],[633,798.3,'4761']];
icTexts.forEach(function(t){txt(t[0],t[1],'{a|IC}{s|50}{a| = '+t[2]+' nM}',{rich:icRich});txt(t[0],t[1]+9,'{r|r}{p|2}{a| = 0.99}',{rich:icRich});});
</script>
<script>
var chart=echarts.init(document.getElementById('c'),null,{renderer:'canvas',width:766,height:832});
chart.setOption({animation:false,backgroundColor:'#fff',textStyle:{fontFamily:FONT},grid:grids,xAxis:xAxes,yAxis:yAxes,series:series,graphic:{elements:graphics}});
</script>
</body></html>
